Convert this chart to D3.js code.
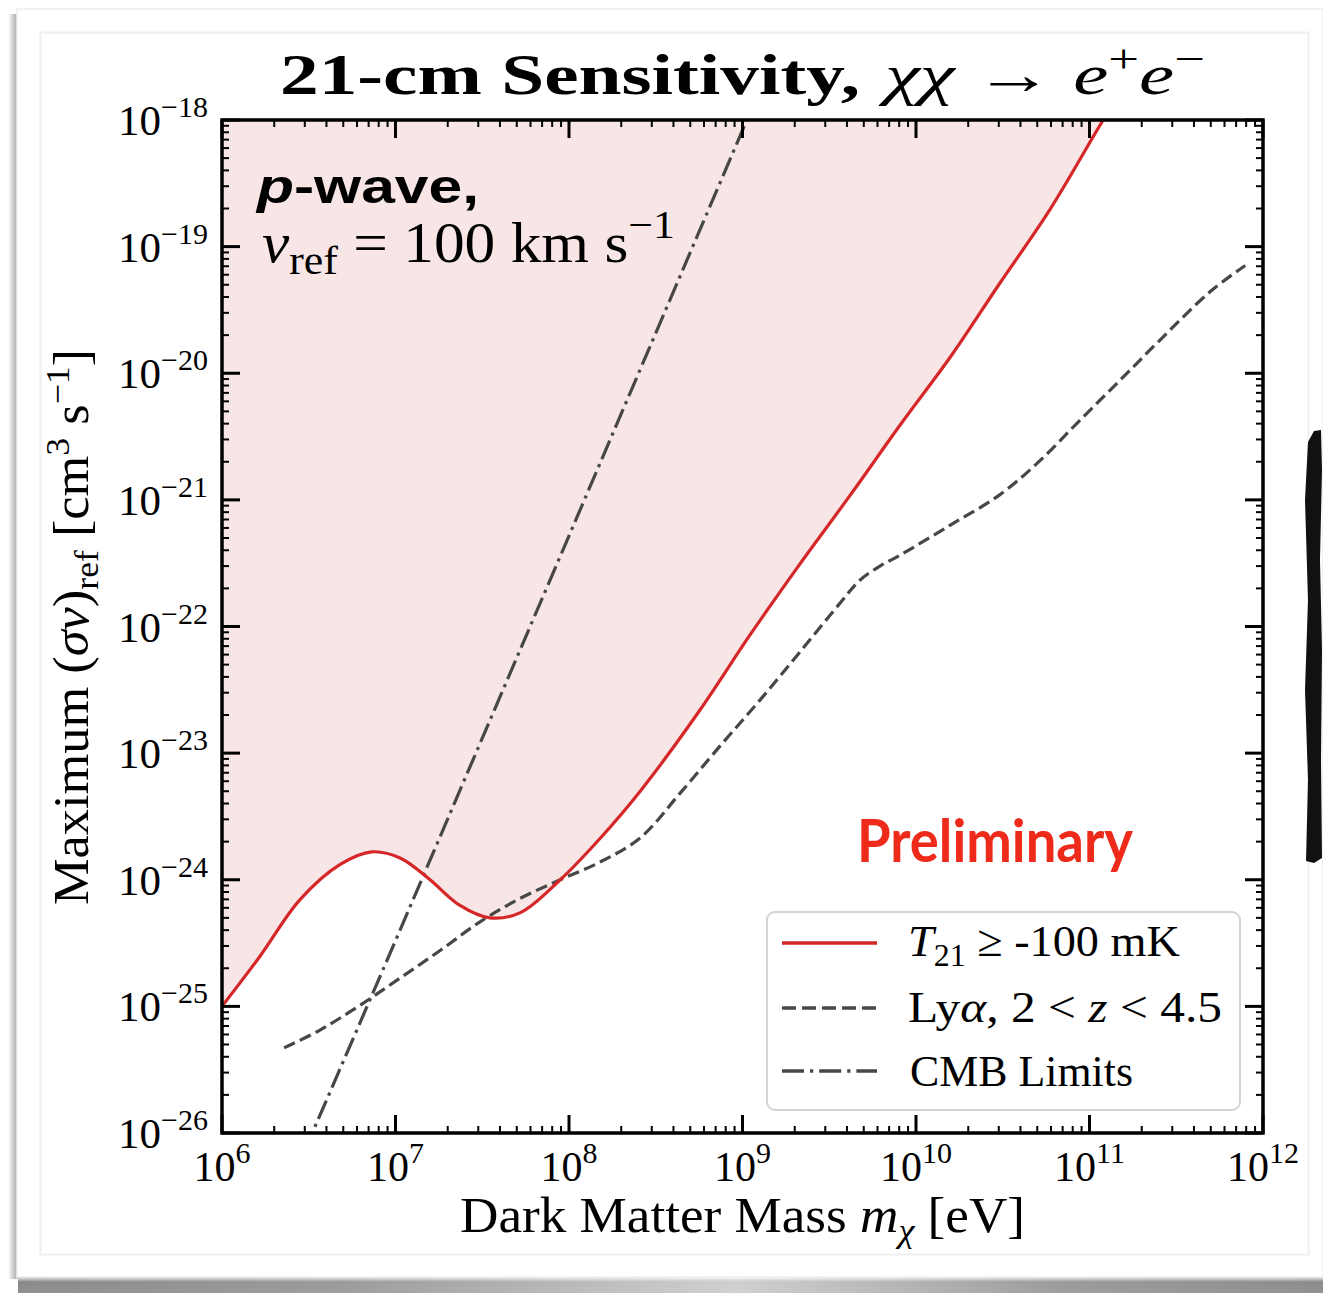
<!DOCTYPE html>
<html>
<head>
<meta charset="utf-8">
<script src="https://cdn.jsdelivr.net/npm/d3@7"></script>
<style>
  html, body { margin: 0; padding: 0; background: #fff; }
  svg { display: block; }
</style>
</head>
<body>
<svg id="chart" width="1323" height="1293"></svg>
<script>
// ---------------- DATA ----------------
const xDomain = [1e6, 1e12];
const yDomain = [1e-26, 1e-18];
const xExponents = [6, 7, 8, 9, 10, 11, 12];
const xTickLabels = ["6", "7", "8", "9", "10", "11", "12"];
const yExponents = [-18, -19, -20, -21, -22, -23, -24, -25, -26];
const yTickLabels = ["−18", "−19", "−20", "−21", "−22", "−23", "−24", "−25", "−26"];

// T21 >= -100 mK (red)
const t21Mass = [1e6, 1.66e6, 2.8e6, 4.8e6, 7.3e6, 1.07e7, 1.58e7, 2.34e7, 3.5e7, 5.25e7, 8.9e7, 1.5e8, 2.6e8, 5.7e8, 1.1e9, 2.1e9, 4.2e9, 8.1e9, 1.6e10, 3.0e10, 5.9e10, 1.2e11, 1.5e11];
const t21Sigma = [1.0e-25, 2.5e-25, 6.9e-25, 1.32e-24, 1.66e-24, 1.48e-24, 1.0e-24, 6.3e-25, 5.0e-25, 5.5e-25, 1.0e-24, 2.1e-24, 5.1e-24, 2.2e-23, 8.5e-23, 3.0e-22, 1.1e-21, 3.9e-21, 1.38e-20, 5.0e-20, 1.95e-19, 1.0e-18, 1.6e-18];

// Lyman-alpha 2 < z < 4.5 (dashed)
const lyaMass = [2.28e6, 3.67e6, 6.24e6, 1.06e7, 1.8e7, 3.07e7, 5.2e7, 8.9e7, 1.51e8, 2.57e8, 4.37e8, 7.41e8, 1.26e9, 2.14e9, 3.65e9, 4.75e9, 6.2e9, 8.1e9, 1.57e10, 3.05e10, 5.2e10, 8.8e10, 1.5e11, 2.55e11, 4.95e11, 7.9e11];
const lyaSigma = [4.7e-26, 6.5e-26, 1.02e-25, 1.67e-25, 2.75e-25, 4.65e-25, 7.1e-25, 1.0e-24, 1.38e-24, 2.14e-24, 4.83e-24, 1.135e-23, 2.62e-23, 6.28e-23, 1.53e-22, 2.32e-22, 3.0e-22, 3.66e-22, 6.3e-22, 1.1e-21, 2.05e-21, 4.25e-21, 8.8e-21, 1.83e-20, 4.4e-20, 7.1e-20];

// CMB limits (dash-dot)
const cmbMass = [3.0e6, 1.0e7, 1.0e8, 1.0e9, 1.2e9];
const cmbSigma = [7.3e-27, 3.3e-25, 5.2e-22, 8.3e-19, 1.5e-18];

const legendLabels = ["T21", "Lya", "CMB"];

// ---------------- LAYOUT ----------------
const svg = d3.select("#chart");
const W = 1323, H = 1293;
const plot = { left: 222, top: 120, right: 1263, bottom: 1133 };

const serif = "'Liberation Serif', 'Times New Roman', serif";
const sans = "'Liberation Sans', Arial, sans-serif";
const red = "#d62728";
const gray = "#474747";

// ---- page decoration (slide frame) ----
const defs = svg.append("defs");
const lg = defs.append("linearGradient").attr("id", "leftShadow").attr("x1", 0).attr("x2", 1).attr("y1", 0).attr("y2", 0);
lg.append("stop").attr("offset", "0%").attr("stop-color", "#fff");
lg.append("stop").attr("offset", "60%").attr("stop-color", "#b8b8b8");
lg.append("stop").attr("offset", "100%").attr("stop-color", "#e6e6e6");
const bg = defs.append("linearGradient").attr("id", "bottomShadow").attr("x1", 0).attr("x2", 1).attr("y1", 0).attr("y2", 0);
bg.append("stop").attr("offset", "0%").attr("stop-color", "#8a8a8a");
bg.append("stop").attr("offset", "25%").attr("stop-color", "#9a9a9a");
bg.append("stop").attr("offset", "55%").attr("stop-color", "#cfcfcf");
bg.append("stop").attr("offset", "80%").attr("stop-color", "#9a9a9a");
bg.append("stop").attr("offset", "100%").attr("stop-color", "#8c8c8c");
const bgv = defs.append("linearGradient").attr("id", "bottomFade").attr("x1", 0).attr("x2", 0).attr("y1", 0).attr("y2", 1);
bgv.append("stop").attr("offset", "0%").attr("stop-color", "#fff").attr("stop-opacity", 0.85);
bgv.append("stop").attr("offset", "30%").attr("stop-color", "#fff").attr("stop-opacity", 0);
bgv.append("stop").attr("offset", "100%").attr("stop-color", "#fff").attr("stop-opacity", 0.05);

svg.append("rect").attr("x", 0).attr("y", 0).attr("width", W).attr("height", H).attr("fill", "#fff");
svg.append("rect").attr("x", 8).attr("y", 14).attr("width", 12).attr("height", 1265).attr("fill", "url(#leftShadow)");
svg.append("rect").attr("x", 17).attr("y", 9).attr("width", W - 17).attr("height", 1268)
  .attr("fill", "#fff").attr("stroke", "#eeeeee").attr("stroke-width", 1.5);
svg.append("rect").attr("x", 18).attr("y", 1277).attr("width", W - 18).attr("height", 16).attr("fill", "url(#bottomShadow)");
svg.append("rect").attr("x", 18).attr("y", 1277).attr("width", W - 18).attr("height", 16).attr("fill", "url(#bottomFade)");
svg.append("rect").attr("x", 40.5).attr("y", 32.5).attr("width", 1268).attr("height", 1222)
  .attr("fill", "none").attr("stroke", "#f0f0f0").attr("stroke-width", 2);

// right-side black scribble bar
svg.append("path")
  .attr("d", "M1308,442 L1314,431 L1321,430 L1322,470 L1320,560 L1322,650 L1321,760 L1322,858 L1314,863 L1306,861 L1308,780 L1305,690 L1308,600 L1305,500 Z")
  .attr("fill", "#111");

// ---------------- SCALES ----------------
const x = d3.scaleLog().domain(xDomain).range([plot.left, plot.right]);
const y = d3.scaleLog().domain(yDomain).range([plot.bottom, plot.top]);

defs.append("clipPath").attr("id", "plotClip").append("rect")
  .attr("x", plot.left).attr("y", plot.top)
  .attr("width", plot.right - plot.left).attr("height", plot.bottom - plot.top);

const g = svg.append("g").attr("clip-path", "url(#plotClip)");
const curve = d3.curveCatmullRom.alpha(0.5);

// shaded region above T21 curve
const t21Data = t21Mass.map((m, i) => [m, t21Sigma[i]]);
const area = d3.area()
  .x(d => x(d[0]))
  .y0(plot.top - 5)
  .y1(d => y(d[1]))
  .curve(curve);
g.append("path").datum(t21Data).attr("d", area).attr("fill", "#f8e6e7");

const line = d3.line().x(d => x(d[0])).y(d => y(d[1])).curve(curve);

// Lya dashed
const lyaData = lyaMass.map((m, i) => [m, lyaSigma[i]]);
g.append("path").datum(lyaData).attr("d", line)
  .attr("fill", "none").attr("stroke", gray).attr("stroke-width", 3.2)
  .attr("stroke-dasharray", "12,5.5");

// CMB dash-dot
const cmbData = cmbMass.map((m, i) => [m, cmbSigma[i]]);
g.append("path").datum(cmbData).attr("d", d3.line().x(d => x(d[0])).y(d => y(d[1])))
  .attr("fill", "none").attr("stroke", gray).attr("stroke-width", 3.2)
  .attr("stroke-dasharray", "20,5.5,3.2,5.5");

// T21 red
g.append("path").datum(t21Data).attr("d", line)
  .attr("fill", "none").attr("stroke", red).attr("stroke-width", 3.2);

// ---------------- TICKS ----------------
const tickG = svg.append("g").attr("stroke", "#000");
const minorMult = [2, 3, 4, 5, 6, 7, 8, 9];
xExponents.forEach(e => {
  const v = Math.pow(10, e);
  const list = [[v, true]].concat(e < 12 ? minorMult.map(k => [k * v, false]) : []);
  list.forEach(([t, major]) => {
    const len = major ? 18 : 7, sw = major ? 3 : 2;
    tickG.append("line").attr("x1", x(t)).attr("x2", x(t)).attr("y1", plot.bottom).attr("y2", plot.bottom - len).attr("stroke-width", sw);
    tickG.append("line").attr("x1", x(t)).attr("x2", x(t)).attr("y1", plot.top).attr("y2", plot.top + len).attr("stroke-width", sw);
  });
});
yExponents.forEach(e => {
  const v = Math.pow(10, e);
  const list = [[v, true]].concat(e !== -18 ? minorMult.map(k => [k * v, false]) : []);
  list.forEach(([t, major]) => {
    const len = major ? 18 : 7, sw = major ? 3 : 2;
    tickG.append("line").attr("y1", y(t)).attr("y2", y(t)).attr("x1", plot.left).attr("x2", plot.left + len).attr("stroke-width", sw);
    tickG.append("line").attr("y1", y(t)).attr("y2", y(t)).attr("x1", plot.right).attr("x2", plot.right - len).attr("stroke-width", sw);
  });
});

// frame
svg.append("rect").attr("x", plot.left).attr("y", plot.top)
  .attr("width", plot.right - plot.left).attr("height", plot.bottom - plot.top)
  .attr("fill", "none").attr("stroke", "#000").attr("stroke-width", 3.5);

// tick labels
xExponents.forEach((e, i) => {
  const t = svg.append("text").attr("x", x(Math.pow(10, e))).attr("y", 1181)
    .attr("text-anchor", "middle").attr("font-family", serif).attr("font-size", 42).attr("fill", "#000");
  t.append("tspan").text("10");
  t.append("tspan").attr("dy", -18).attr("font-size", 30).text(xTickLabels[i]);
});
yExponents.forEach((e, i) => {
  const t = svg.append("text").attr("x", 208).attr("y", y(Math.pow(10, e)) + 15)
    .attr("text-anchor", "end").attr("font-family", serif).attr("font-size", 43).attr("fill", "#000");
  t.append("tspan").text("10");
  t.append("tspan").attr("dy", -18).attr("font-size", 30).text(yTickLabels[i]);
});

// ---------------- TEXT ----------------
// title
svg.append("text").attr("x", 280).attr("y", 94)
  .attr("font-family", serif).attr("font-size", 58).attr("font-weight", "bold").attr("fill", "#000")
  .attr("textLength", 580).attr("lengthAdjust", "spacingAndGlyphs")
  .text("21-cm Sensitivity,");
const tm = svg.append("text").attr("x", 885).attr("y", 94)
  .attr("font-family", serif).attr("font-size", 58).attr("fill", "#000")
  .attr("textLength", 320).attr("lengthAdjust", "spacingAndGlyphs");
tm.append("tspan").attr("font-style", "italic").text("χχ");
tm.append("tspan").text(" → ");
tm.append("tspan").attr("font-style", "italic").text("e");
tm.append("tspan").attr("dy", -22).attr("font-size", 40).text("+");
tm.append("tspan").attr("dy", 22).attr("font-style", "italic").text("e");
tm.append("tspan").attr("dy", -22).attr("font-size", 40).text("−");

// x-axis label
const xl = svg.append("text").attr("x", 460).attr("y", 1232)
  .attr("font-family", serif).attr("font-size", 50).attr("fill", "#000")
  .attr("textLength", 565).attr("lengthAdjust", "spacingAndGlyphs");
xl.append("tspan").text("Dark Matter Mass ");
xl.append("tspan").attr("font-style", "italic").text("m");
xl.append("tspan").attr("dy", 10).attr("font-size", 34).attr("font-style", "italic").text("χ");
xl.append("tspan").attr("dy", -10).text(" [eV]");

// y-axis label
const yl = svg.append("text").attr("transform", "translate(88,905) rotate(-90)")
  .attr("font-family", serif).attr("font-size", 50).attr("fill", "#000")
  .attr("textLength", 556).attr("lengthAdjust", "spacingAndGlyphs");
yl.append("tspan").text("Maximum (");
yl.append("tspan").attr("font-style", "italic").text("σv");
yl.append("tspan").text(")");
yl.append("tspan").attr("dy", 10).attr("font-size", 34).text("ref");
yl.append("tspan").attr("dy", -10).text(" [cm");
yl.append("tspan").attr("dy", -19).attr("font-size", 34).text("3");
yl.append("tspan").attr("dy", 19).text(" s");
yl.append("tspan").attr("dy", -19).attr("font-size", 34).text("−1");
yl.append("tspan").attr("dy", 19).text("]");

// p-wave annotation
const pw = svg.append("text").attr("x", 257).attr("y", 203)
  .attr("font-family", sans).attr("font-weight", "bold").attr("font-size", 48).attr("fill", "#000")
  .attr("textLength", 222).attr("lengthAdjust", "spacingAndGlyphs");
pw.append("tspan").attr("font-style", "italic").text("p");
pw.append("tspan").text("-wave,");

const vr = svg.append("text").attr("x", 262).attr("y", 262)
  .attr("font-family", serif).attr("font-size", 56).attr("fill", "#000")
  .attr("textLength", 413).attr("lengthAdjust", "spacingAndGlyphs");
vr.append("tspan").attr("font-style", "italic").text("v");
vr.append("tspan").attr("dy", 12).attr("font-size", 40).text("ref");
vr.append("tspan").attr("dy", -12).text(" = 100 km s");
vr.append("tspan").attr("dy", -24).attr("font-size", 40).text("−1");

// Preliminary
svg.append("text").attr("x", 857).attr("y", 862)
  .attr("font-family", "Lato, 'Noto Sans', sans-serif").attr("font-weight", "bold").attr("font-size", 60)
  .attr("fill", "#ee2a1b").attr("textLength", 276).attr("lengthAdjust", "spacingAndGlyphs")
  .text("Preliminary");

// ---------------- LEGEND ----------------
const leg = svg.append("g");
leg.append("rect").attr("x", 767).attr("y", 912).attr("width", 473).attr("height", 198).attr("rx", 8)
  .attr("fill", "#fff").attr("fill-opacity", 0.85).attr("stroke", "#d4d4d4").attr("stroke-width", 2);
const legY = [943, 1008, 1071];
const legStyles = [
  { stroke: red, dash: null },
  { stroke: gray, dash: "14,6" },
  { stroke: gray, dash: "22,6,3.2,6" }
];
legendLabels.forEach((k, i) => {
  const l = leg.append("line").attr("x1", 782).attr("x2", 877).attr("y1", legY[i]).attr("y2", legY[i])
    .attr("stroke", legStyles[i].stroke).attr("stroke-width", 3.4);
  if (legStyles[i].dash) l.attr("stroke-dasharray", legStyles[i].dash);
});
const lt0 = leg.append("text").attr("x", 908).attr("y", 956).attr("font-family", serif).attr("font-size", 45)
  .attr("textLength", 272).attr("lengthAdjust", "spacingAndGlyphs");
lt0.append("tspan").attr("font-style", "italic").text("T");
lt0.append("tspan").attr("dy", 10).attr("font-size", 31).text("21");
lt0.append("tspan").attr("dy", -10).text(" ≥ -100 mK");
const lt1 = leg.append("text").attr("x", 908).attr("y", 1022).attr("font-family", serif).attr("font-size", 45)
  .attr("textLength", 314).attr("lengthAdjust", "spacingAndGlyphs");
lt1.append("tspan").text("Ly");
lt1.append("tspan").attr("font-style", "italic").text("α");
lt1.append("tspan").text(", 2 < ");
lt1.append("tspan").attr("font-style", "italic").text("z");
lt1.append("tspan").text(" < 4.5");
leg.append("text").attr("x", 910).attr("y", 1086).attr("font-family", serif).attr("font-size", 45)
  .attr("textLength", 223).attr("lengthAdjust", "spacingAndGlyphs").text("CMB Limits");
</script>
</body>
</html>
